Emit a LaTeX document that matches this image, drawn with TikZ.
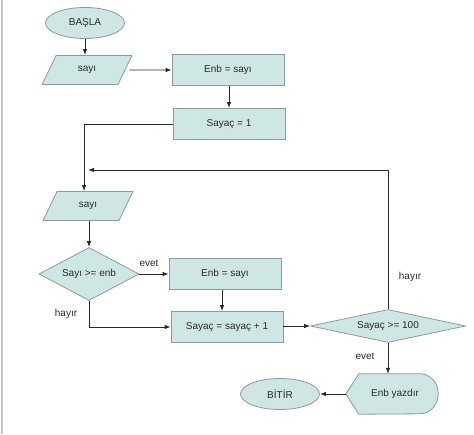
\documentclass[tikz,border=0pt]{standalone}
\usepackage{fontspec}
\setmainfont{Liberation Sans}
\usetikzlibrary{shapes.geometric,arrows.meta}
\definecolor{boxfill}{HTML}{CFE7E4}
\definecolor{boxline}{HTML}{8A9C9B}
\definecolor{ink}{HTML}{2A2A2A}
\begin{document}
\begin{tikzpicture}[x=1pt,y=-1pt,
  every node/.style={font=\fontsize{10}{12}\selectfont, text=ink},
  shp/.style={draw=boxline, fill=boxfill, line width=0.8pt, inner sep=0pt},
  procbox/.style={shp, rectangle, minimum width=112pt, minimum height=31pt},
  termbox/.style={shp, ellipse, minimum width=79pt, minimum height=31pt},
  iobox/.style={shp, trapezium, trapezium left angle=61, trapezium right angle=119,
     trapezium stretches=true, minimum width=90pt, minimum height=29pt},
  decbox/.style={shp, diamond},
  conn/.style={draw=ink, line width=0.8pt, -{Latex[length=6pt,width=4.5pt]}},
  plain/.style={draw=ink, line width=0.8pt},
  lbl/.style={inner sep=0pt}]
\useasboundingbox (0,0) rectangle (474,434);
\fill[white] (0,0) rectangle (474,434);
\draw[gray!45, line width=1.5pt] (2,0) -- (2,434);

\node[termbox] (basla) at (85,23) {BAŞLA};
\node[iobox] (sayi1) at (87,70) {sayı};
\node[procbox] (enb1) at (228,70) {Enb = sayı};
\node[procbox] (sayac1) at (229,124) {Sayaç = 1};
\node[iobox] (sayi2) at (88,206) {sayı};
\node[decbox, minimum width=100pt, minimum height=53pt, aspect=1.9] (d1) at (89,274) {Sayı >= enb};
\node[procbox] (enb2) at (225,274) {Enb = sayı};
\node[procbox] (inc) at (227,327) {Sayaç = sayaç + 1};
\node[decbox, minimum width=155pt, minimum height=33pt, aspect=4.7] (d2) at (388,326) {Sayaç >= 100};
\node[minimum width=92pt, minimum height=40pt, inner sep=0pt] (yaz) at (392,394) {};
\draw[shp] (yaz.west) -- ([xshift=13pt]yaz.north west) -- ([xshift=-18pt]yaz.north east)
  arc[start angle=90, end angle=-90, x radius=18pt, y radius=20pt]
  -- ([xshift=13pt]yaz.south west) -- cycle;
\node at ([xshift=3pt]yaz.center) {Enb yazdır};
\node[termbox] (bitir) at (280,394) {BİTİR};

\coordinate (loopend) at (88,170);

\draw[conn] (basla) -- (basla.south |- sayi1.north);
\draw[conn] ([xshift=4pt]sayi1.east) -- (enb1.west);
\draw[conn] (enb1.south -| sayac1.north) -- (sayac1.north);
\draw[conn] (sayac1.west) -| ([xshift=-4pt]sayi2.north);
\draw[conn] (d2.north) |- (loopend);
\draw[conn] (sayi2.south -| d1.north) -- (d1.north);
\draw[conn] (d1.east) -- (enb2.west);
\draw[conn] ([xshift=-3pt]enb2.south) -- ([xshift=-3pt]enb2.south |- inc.north);
\draw[conn] (d1.south) |- (inc.west);
\draw[conn] (inc.east |- d2.west) -- (d2.west);
\draw[conn] (d2.south) -- (d2.south |- yaz.north);
\draw[conn] (yaz.west) -- (bitir.east);

\node[lbl] (l1) at (149,263) {evet};
\node[lbl] (l2) at (66,314) {hayır};
\node[lbl] (l3) at (410,277) {hayır};
\node[lbl] (l4) at (365,356) {evet};
\end{tikzpicture}
\end{document}
